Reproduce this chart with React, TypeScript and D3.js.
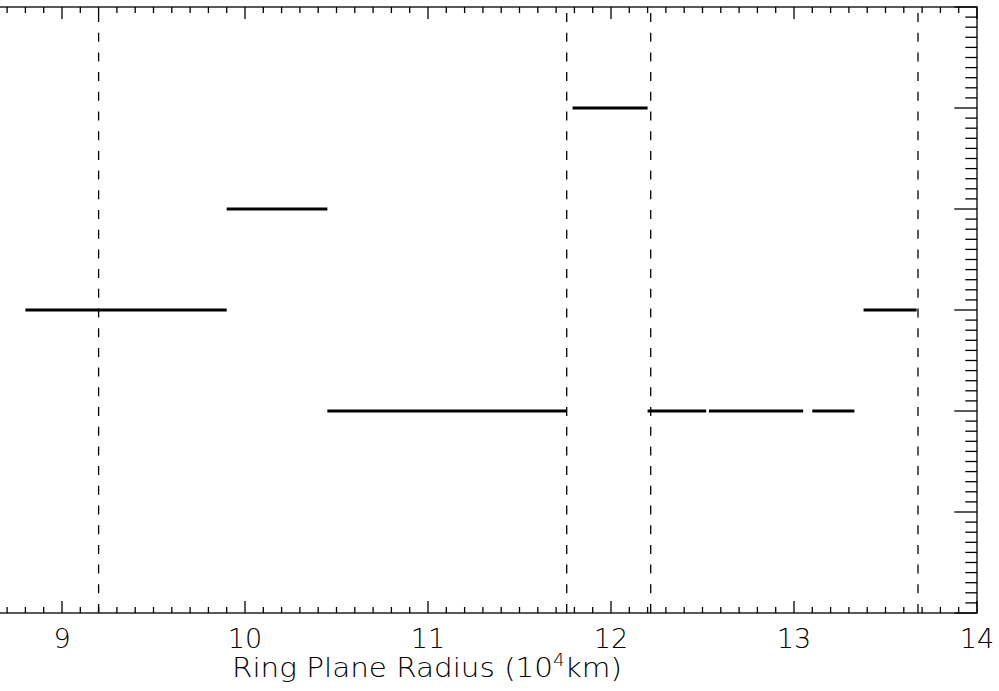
import React from 'react';
import * as d3 from 'd3';

// IDL-style step plot of ring regions vs. ring plane radius.
// The left edge of the original plot frame is cropped off the picture.

const W = 999;
const H = 691;
const X_DOMAIN: [number, number] = [8, 14];
const Y_DOMAIN: [number, number] = [0, 6];
const X_LABELS = [9, 10, 11, 12, 13, 14];

// segment start, end (10^4 km) and level
const segStart = [8.8, 9.9, 10.45, 11.79, 12.2, 12.535, 13.1, 13.38];
const segEnd = [9.9, 10.45, 11.758, 12.2, 12.52, 13.05, 13.33, 13.67];
const segLevel = [3, 4, 2, 5, 2, 2, 2, 3];

// dashed ring boundaries
const boundaries = [9.2, 11.758, 12.217, 13.6775];

const FONT = '"DejaVu Sans", sans-serif';

export default function App() {
  const x = d3.scaleLinear().domain(X_DOMAIN).range([-121, 977]);
  const y = d3.scaleLinear().domain(Y_DOMAIN).range([613, 7]);
  const [x0, x1] = x.range();
  const [yb, yt] = y.range();

  // minor ticks every 0.1 inside the domains
  const xMinor = d3.range(61).map(i => 8 + i * 0.1);
  const yMinor = d3.range(61).map(i => i * 0.1);
  const isMajor = (v: number) => Math.abs(v - Math.round(v)) < 1e-6;

  return (
    <svg width={W} height={H} style={{ position: 'absolute', left: 0, top: 0, background: '#fff' }}>
      {/* dashed boundaries */}
      {boundaries.map((b, i) => (
        <line key={'b' + i} x1={x(b)} x2={x(b)} y1={yb} y2={yt}
          stroke="#000" strokeWidth={1.3} strokeDasharray="9,10.7" />
      ))}

      {/* segments */}
      {segStart.map((s, i) => (
        <line key={'s' + i} x1={x(s)} x2={x(segEnd[i])} y1={y(segLevel[i])} y2={y(segLevel[i])}
          stroke="#000" strokeWidth={3} />
      ))}

      {/* frame */}
      <rect x={x0} y={yt} width={x1 - x0} height={yb - yt} fill="none" stroke="#000" strokeWidth={1.3} />

      {/* x ticks, bottom and top */}
      {xMinor.map((v, i) => {
        const len = isMajor(v) ? 12 : 6;
        return (
          <g key={'xt' + i}>
            <line x1={x(v)} x2={x(v)} y1={yb} y2={yb - len} stroke="#000" strokeWidth={1.3} />
            <line x1={x(v)} x2={x(v)} y1={yt} y2={yt + len} stroke="#000" strokeWidth={1.3} />
          </g>
        );
      })}

      {/* y ticks on the right axis */}
      {yMinor.map((v, i) => {
        const len = isMajor(v) ? 22.7 : 11.7;
        return (
          <line key={'yt' + i} x1={x1} x2={x1 - len} y1={y(v)} y2={y(v)} stroke="#000" strokeWidth={1.3} />
        );
      })}

      {/* x tick labels */}
      {X_LABELS.map(v => (
        <text key={'xl' + v} x={x(v)} y={648} textAnchor="middle" fontFamily={FONT}
          fontSize={27} fontWeight={200} fill="#000">{v}</text>
      ))}

      {/* x axis title */}
      <text x={427} y={677} textAnchor="middle" fontFamily={FONT} fontSize={27} fontWeight={200}
        fill="#000" textLength={390} lengthAdjust="spacingAndGlyphs">
        Ring Plane Radius (10<tspan fontSize={17} dy={-11}>4</tspan><tspan dy={11}>km)</tspan>
      </text>
    </svg>
  );
}
